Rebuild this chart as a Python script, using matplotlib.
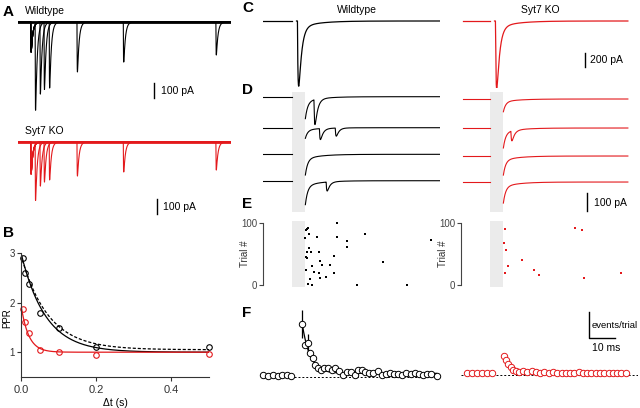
import numpy as np
import matplotlib
matplotlib.use('Agg')
import matplotlib.pyplot as plt

plt.rcParams['font.family'] = ['Liberation Sans', 'DejaVu Sans']

W, H = 640, 408
RED = '#e3191c'
GREY = '#ebebeb'

# ---------------- data ----------------
# A: paired-pulse sweeps (display time in ms, amplitudes in pA)
a_dt = [12, 25, 36, 50, 125, 250, 500]
a_wt_first = 200
a_wt_second = [573, 480, 450, 440, 333, 267, 220]
a_ko_first = 213
a_ko_second = [373, 293, 267, 253, 227, 200, 187]

# B: paired-pulse ratio vs interval (s)
b_dt = [0.005, 0.01, 0.02, 0.05, 0.1, 0.2, 0.5]
b_wt = [2.89, 2.6, 2.37, 1.8, 1.48, 1.1, 1.1]
b_ko = [1.88, 1.6, 1.39, 1.05, 1.0, 0.94, 0.96]
b_wt_fit = (2.0, 0.065)          # 1 + amp*exp(-t/tau)
b_wt_fit2 = (1.05, 1.9, 0.072)   # dashed fit: base + amp*exp(-t/tau)
b_ko_fit = (0.95, 0.02)

# C: single EPSCs (pA)
c_wt_amp = 857
c_ko_amp = 886

# D: example sweeps, tail of synchronous EPSC (pA) and async events (onset ms, pA)
d_wt_tail = [122, 59, 115, 133]
d_wt_events = [[(8.6, 139)], [(10.7, 61), (16.8, 45)], [], [(13.3, 50)]]
d_ko_tail = [71, 111, 106, 117]
d_ko_events = [[], [(8.2, 55)], [], []]

# E: raster of async events (ms, trial)
e_wt_t = [17.4, 6.5, 6.0, 5.6, 6.7, 9.7, 17.4, 28.1, 53.5, 5.3, 21.5, 21.5, 6.7, 6.0,
          7.6, 10.5, 5.6, 6.0, 16.5, 11.0, 35.1, 11.8, 14.6, 7.8, 5.6, 8.6, 10.5, 16.5,
          7.2, 10.8, 13.3, 6.5, 7.8, 25.1, 44.5]
e_wt_trial = [100, 92, 90, 88, 83, 78, 78, 83, 73, 75, 71, 62, 60, 53, 53, 54, 45, 44,
              46, 38, 37, 32, 33, 30, 24, 21, 19, 19, 10, 12, 13, 1, 0, 0, 0]
e_ko_t = [5.9, 32.8, 35.4, 5.7, 6.2, 12.3, 7.0, 5.9, 17.1, 19.1, 36.3, 50.5]
e_ko_trial = [90, 92, 89, 67, 56, 40, 30, 20, 24, 16, 11, 20]

# F: event histogram (events/trial per bin)
f_wt_pre_t = [-10.9, -9.0, -7.0, -5.1, -3.6, -1.9, -0.3]
f_wt_pre_v = [0.004, 0.002, 0.005, 0.003, 0.006, 0.004, 0.002]
f_wt_t = [4.1, 5.1, 6.2, 7.2, 8.2, 9.0, 10.1, 11.5, 12.6, 14.1, 15.4, 16.7, 18.2, 19.9,
          21.2, 22.8, 24.3, 25.7, 26.9, 28.2, 29.7, 31.4, 33.1, 34.6, 36.2, 37.8, 39.5,
          41.0, 42.6, 44.2, 45.8, 47.4, 48.9, 50.6, 52.2, 53.8, 55.8]
f_wt_v = [0.202, 0.121, 0.130, 0.089, 0.070, 0.044, 0.032, 0.025, 0.032, 0.032, 0.025,
          0.032, 0.021, 0.006, 0.018, 0.018, 0.006, 0.025, 0.025, 0.018, 0.012, 0.015,
          0.022, 0.006, 0.010, 0.012, 0.010, 0.010, 0.006, 0.012, 0.010, 0.015, 0.010,
          0.006, 0.010, 0.010, 0.002]
f_wt_err = [0.053, 0.0, 0.035]
f_wt_fit = (0.012, 0.19, 3.0)
f_ko_pre_t = [-8.8, -6.9, -5.0, -3.0, -1.1, 0.8]
f_ko_pre_v = [0.004, 0.006, 0.005, 0.007, 0.006, 0.005]
f_ko_t = [5.5, 6.3, 7.2, 8.1, 9.1, 10.2, 11.4, 12.9, 14.5, 16.2, 17.8, 19.5, 21.1, 22.8,
          24.4, 26.0, 27.7, 29.3, 31.0, 32.6, 34.3, 35.9, 37.5, 39.2, 40.8, 42.5, 44.1,
          45.8, 47.4, 49.0, 50.7, 52.3]
f_ko_v = [0.070, 0.055, 0.042, 0.029, 0.019, 0.013, 0.009, 0.012, 0.008, 0.014, 0.010,
          0.006, 0.009, 0.005, 0.008, 0.006, 0.004, 0.007, 0.005, 0.006, 0.008, 0.004,
          0.006, 0.005, 0.007, 0.004, 0.006, 0.005, 0.004, 0.006, 0.005, 0.004]
f_ko_fit = (0.005, 0.065, 2.2)


# ---------------- helpers ----------------
def rect(x0, y0, x1, y1):
    return [x0 / W, 1 - y1 / H, (x1 - x0) / W, (y1 - y0) / H]


def px(x, y):
    return x / W, 1 - y / H


def event(t, t0, amp, tr, td):
    s = np.clip(t - t0, 0, None)
    k = (1 - np.exp(-s / tr)) * np.exp(-s / td)
    g = np.linspace(0, 6 * td, 4000)
    kg = (1 - np.exp(-g / tr)) * np.exp(-g / td)
    return -amp * k / kg.max()


def tail(t, t0, amp):
    s = np.clip(t - t0, 0, None)
    return -amp * (0.78 * np.exp(-s / 0.9) + 0.22 * np.exp(-s / 6.0))


fig = plt.figure(figsize=(W / 100, H / 100), dpi=100)

# ---------------- A ----------------
axA = fig.add_axes(rect(18, 15, 231, 220))
axA.set_axis_off()
axA.set_xlim(-34.3, 540.8)
axA.set_ylim(-1320, 46.7)
ta = np.linspace(-34.3, 540.8, 5000)
for off, col, first, second in [(0, 'k', a_wt_first, a_wt_second),
                                (-800, RED, a_ko_first, a_ko_second)]:
    axA.axhline(off, color=col, lw=2.0)
    for dt, amp in zip(a_dt, second):
        y = event(ta, 0, first, 0.5, 4.5) + event(ta, dt, amp, 0.5, 4.5)
        axA.plot(ta, y + off, color=col, lw=0.8)
axA.plot([334, 334], [-409, -509], color='k', lw=1.0)
axA.text(351, -459, '100 pA', fontsize=7.5, va='center')
axA.plot([340, 340], [-1181, -1281], color='k', lw=1.0)
axA.text(357, -1232, '100 pA', fontsize=7.5, va='center')
fig.text(*px(25, 11), 'Wildtype', fontsize=7.5, va='center')
fig.text(*px(25, 131), 'Syt7 KO', fontsize=7.5, va='center')

# ---------------- B ----------------
axB = fig.add_axes(rect(21, 253, 209, 377))
for s in ['top', 'right']:
    axB.spines[s].set_visible(False)
for s in ['left', 'bottom']:
    axB.spines[s].set_linewidth(0.8)
    axB.spines[s].set_color('#333333')
axB.set_xlim(0, 0.5)
axB.set_ylim(0.5, 3)
tb = np.linspace(0, 0.5, 300)
axB.plot(tb, 1 + b_wt_fit[0] * np.exp(-tb / b_wt_fit[1]), color='k', lw=0.9)
axB.plot(tb, b_wt_fit2[0] + b_wt_fit2[1] * np.exp(-tb / b_wt_fit2[2]), color='k', lw=0.9,
         ls=(0, (2.5, 1.5)))
axB.plot(tb, 1 + b_ko_fit[0] * np.exp(-tb / b_ko_fit[1]), color=RED, lw=0.9)
axB.plot(b_dt, b_wt, 'o', ms=4, mfc='none', mec='k', mew=0.8, clip_on=False)
axB.plot(b_dt, b_ko, 'o', ms=4, mfc='none', mec=RED, mew=0.8, clip_on=False)
axB.set_yticks([1, 2, 3])
axB.set_xticks([0, 0.2, 0.4])
axB.set_xticklabels(['0.0', '0.2', '0.4'])
axB.tick_params(axis='y', labelsize=7, length=3, width=0.8, pad=1.5, colors='#333333')
axB.tick_params(axis='x', labelsize=8, length=3, width=0.8, pad=3, colors='#333333')
axB.set_xlabel('\u0394t (s)', fontsize=7.5, labelpad=2)
fig.text(*px(7.5, 318), 'PPR', fontsize=7, rotation=90, ha='center', va='center')

# ---------------- C, D, E, F columns ----------------
cols = [
    dict(x0=263, xlim=(-11, 57.1), t0=-11, t1=57, col='k', amp=c_wt_amp,
         tails=d_wt_tail, events=d_wt_events, rows=[96.7, 127.7, 154.3, 180.7],
         et=e_wt_t, etr=e_wt_trial, fdy=0, title=('Wildtype', 357),
         fpt=f_wt_pre_t, fpv=f_wt_pre_v, ft=f_wt_t, fv=f_wt_v, fit=f_wt_fit),
    dict(x0=461, xlim=(-11, 57.1), t0=-10.2, t1=53.2, col=RED, amp=c_ko_amp,
         tails=d_ko_tail, events=d_ko_events, rows=[99, 128, 156, 182],
         et=e_ko_t, etr=e_ko_trial, fdy=-2, title=('Syt7 KO', 540),
         fpt=f_ko_pre_t, fpv=f_ko_pre_v, ft=f_ko_t, fv=f_ko_v, fit=f_ko_fit),
]
band = (0, 5.3)

for i, c in enumerate(cols):
    x0, x1 = c['x0'], c['x0'] + 177
    # C
    axC = fig.add_axes(rect(x0, 12, x1, 88))
    axC.set_axis_off()
    axC.set_xlim(*c['xlim'])
    axC.set_ylim(-958, 128.6)
    tpre = np.linspace(c['t0'], 0, 100)
    tpost = np.linspace(1.9, c['t1'], 3000)
    axC.plot(tpre, 0 * tpre, color=c['col'], lw=0.9)
    yc = event(tpost, 2.25, c['amp'], 0.3, 1.1) + event(tpost, 2.25, 0.1 * c['amp'], 0.3, 7)
    axC.plot(tpost, yc, color=c['col'], lw=0.9)
    fig.text(*px(c['title'][1], 10), c['title'][0], fontsize=7.5, ha='center', va='center')

    # D
    axD = fig.add_axes(rect(x0, 92, x1, 212))
    axD.set_axis_off()
    axD.set_xlim(*c['xlim'])
    axD.set_ylim(-641, 26)
    axD.axvspan(*band, color=GREY, lw=0)
    tpost = np.linspace(band[1], c['t1'], 3000)
    for row, tamp, evs in zip(c['rows'], c['tails'], c['events']):
        off = 26 - (row - 92) * 5.56
        axD.plot(tpre, 0 * tpre + off, color=c['col'], lw=0.8)
        y = tail(tpost, band[1], tamp)
        for te, ae in evs:
            y = y + event(tpost, te, ae, 0.25, 1.0)
        axD.plot(tpost, y + off, color=c['col'], lw=0.8)

    # E
    axE = fig.add_axes(rect(x0, 221, x1, 287))
    axE.set_xlim(*c['xlim'])
    axE.set_ylim(-3.2, 103.2)
    axE.patch.set_visible(False)
    for s in ['top', 'right', 'bottom']:
        axE.spines[s].set_visible(False)
    axE.spines['left'].set_bounds(0, 100)
    axE.spines['left'].set_linewidth(0.8)
    axE.spines['left'].set_color('#444444')
    axE.set_xticks([])
    axE.set_yticks([0, 100])
    axE.tick_params(axis='y', labelsize=7, length=3, width=0.8, pad=1, colors='#444444')
    axE.set_ylabel('Trial #', fontsize=7, color='#333333')
    axE.yaxis.set_label_coords(-0.075, 0.5)
    axE.axvspan(*band, color=GREY, lw=0)
    axE.plot(c['et'], c['etr'], 's', ms=1.7, color=c['col'], mew=0, clip_on=False)

    # F
    axF = fig.add_axes(rect(x0, 300 + c['fdy'], x1, 386 + c['fdy']))
    axF.set_axis_off()
    axF.set_xlim(*c['xlim'])
    axF.set_ylim(-0.0365, 0.294)
    axF.axhline(0, color='k', lw=0.7, ls=(0, (2, 2)))
    tf = np.linspace(c['ft'][0], c['ft'][-1], 300)
    b0, a0, tau = c['fit']
    axF.plot(tf, b0 + a0 * np.exp(-(tf - c['ft'][0]) / tau), color=c['col'], lw=0.9)
    if i == 0:
        err = f_wt_err + [0.0] * (len(f_wt_t) - len(f_wt_err))
        axF.errorbar(f_wt_t, f_wt_v, yerr=err, fmt='none', ecolor='k', elinewidth=0.9, capsize=0)
    for tt, vv in [(c['fpt'], c['fpv']), (c['ft'], c['fv'])]:
        axF.plot(tt, vv, 'o', ms=4.6, mfc='white', mec=c['col'], mew=0.7, clip_on=False)

    if i == 1:
        axC.plot([36.7, 36.7], [-458, -658], color='k', lw=1.0)
        axC.text(38.6, -557, '200 pA', fontsize=7.5, va='center')
        axD.plot([37.6, 37.6], [-537, -637], color='k', lw=1.0, clip_on=False)
        axD.text(40.2, -591, '100 pA', fontsize=7.5, va='center', clip_on=False)
        axF.plot([38.2, 38.2, 48.2], [0.240, 0.140, 0.140], color='k', lw=1.0)
        axF.text(39.3, 0.19, 'events/trial', fontsize=6.8, va='center')
        axF.text(39.3, 0.102, '10 ms', fontsize=7.5, va='center')

# panel letters
for lab, x, y in [('A', 3, 12), ('B', 3, 233), ('C', 242, 8), ('D', 242, 90),
                  ('E', 242, 204), ('F', 242, 313)]:
    fig.text(*px(x, y), lab, fontsize=11, fontweight='bold', va='center')

fig.savefig('out.png', dpi=100)
